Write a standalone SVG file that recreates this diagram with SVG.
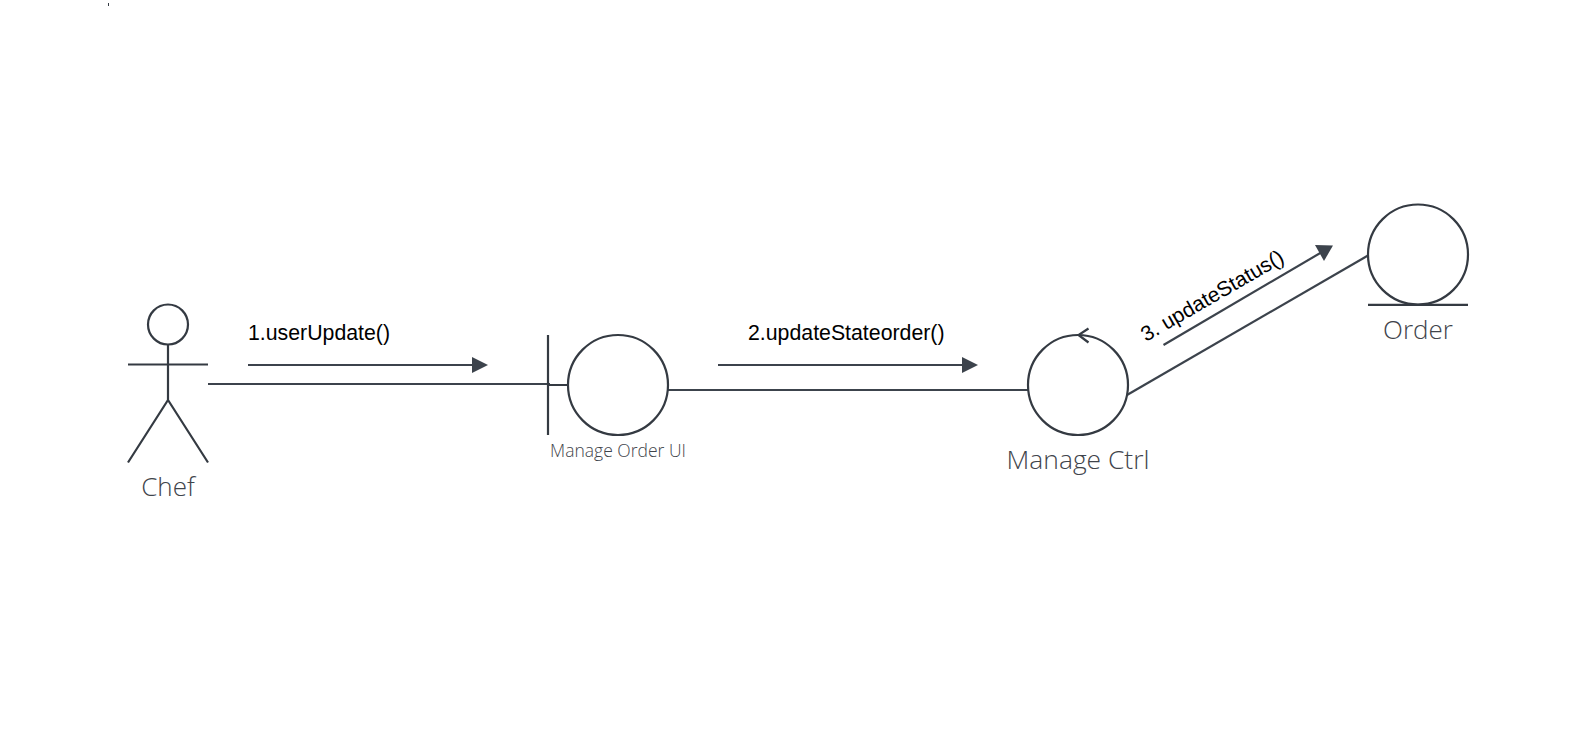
<svg xmlns="http://www.w3.org/2000/svg" width="1588" height="739" viewBox="0 0 1588 739">
<style>
.s{fill:none;stroke:#343a42;stroke-width:2.200}
.c{fill:none;stroke:#3c434c;stroke-width:2.200}
.h{fill:#3c434c;stroke:none}
.m{font-family:"Liberation Sans",Arial,sans-serif;font-size:21.300px;fill:#000}
.n{font-family:"Open Sans","Noto Sans",sans-serif;font-weight:300;fill:#3f444b;text-anchor:middle}
</style>
<rect width="1588" height="739" fill="#ffffff"/>
<line id="tick" x1="108.500" y1="3" x2="108.500" y2="6" stroke="#343a42" stroke-width="1"/>
<g id="connectors">
<line class="c" x1="208" y1="384" x2="550" y2="384"/>
<line class="c" x1="668" y1="390" x2="1028" y2="390"/>
<line class="c" x1="1127" y1="395" x2="1368" y2="255.500"/>
<line class="c" x1="248" y1="365" x2="473" y2="365"/>
<polygon class="h" points="472,357 488,365 472,373"/>
<line class="c" x1="718" y1="365" x2="964" y2="365"/>
<polygon class="h" points="962,357 978,365 962,373"/>
<line class="c" x1="1163.500" y1="345" x2="1322" y2="252"/>
<polygon class="h" points="1315,245 1333,245.500 1324,261"/>
</g>
<g id="chef">
<circle class="s" cx="168" cy="324.500" r="20"/>
<path class="s" d="M168 345V400M128 364.500H208M128 462.500L168 400L208 462.500"/>
<text class="n" x="168" y="496" font-size="26">Chef</text>
</g>
<g id="manage-order-ui">
<path class="s" d="M548 335V435M548 385H568"/>
<circle class="s" cx="618" cy="385" r="50"/>
<text class="n" x="618" y="457" font-size="17.500">Manage Order UI</text>
</g>
<g id="manage-ctrl">
<circle class="s" cx="1078" cy="385" r="50"/>
<path class="s" d="M1088.500 328.500L1078.500 335L1088.500 342.500"/>
<text class="n" x="1078" y="469" font-size="26.400">Manage Ctrl</text>
</g>
<g id="order">
<circle class="s" cx="1418" cy="254.500" r="50"/>
<line class="s" x1="1368" y1="304.800" x2="1468" y2="304.800"/>
<text class="n" x="1418" y="339" font-size="26">Order</text>
</g>
<g id="labels">
<text class="m" x="248" y="340">1.userUpdate()</text>
<text class="m" x="748" y="340">2.updateStateorder()</text>
<text class="m" x="1146" y="342" font-size="21" style="font-size:21px" transform="rotate(-30 1146 342)">3. updateStatus()</text>
</g>
</svg>
